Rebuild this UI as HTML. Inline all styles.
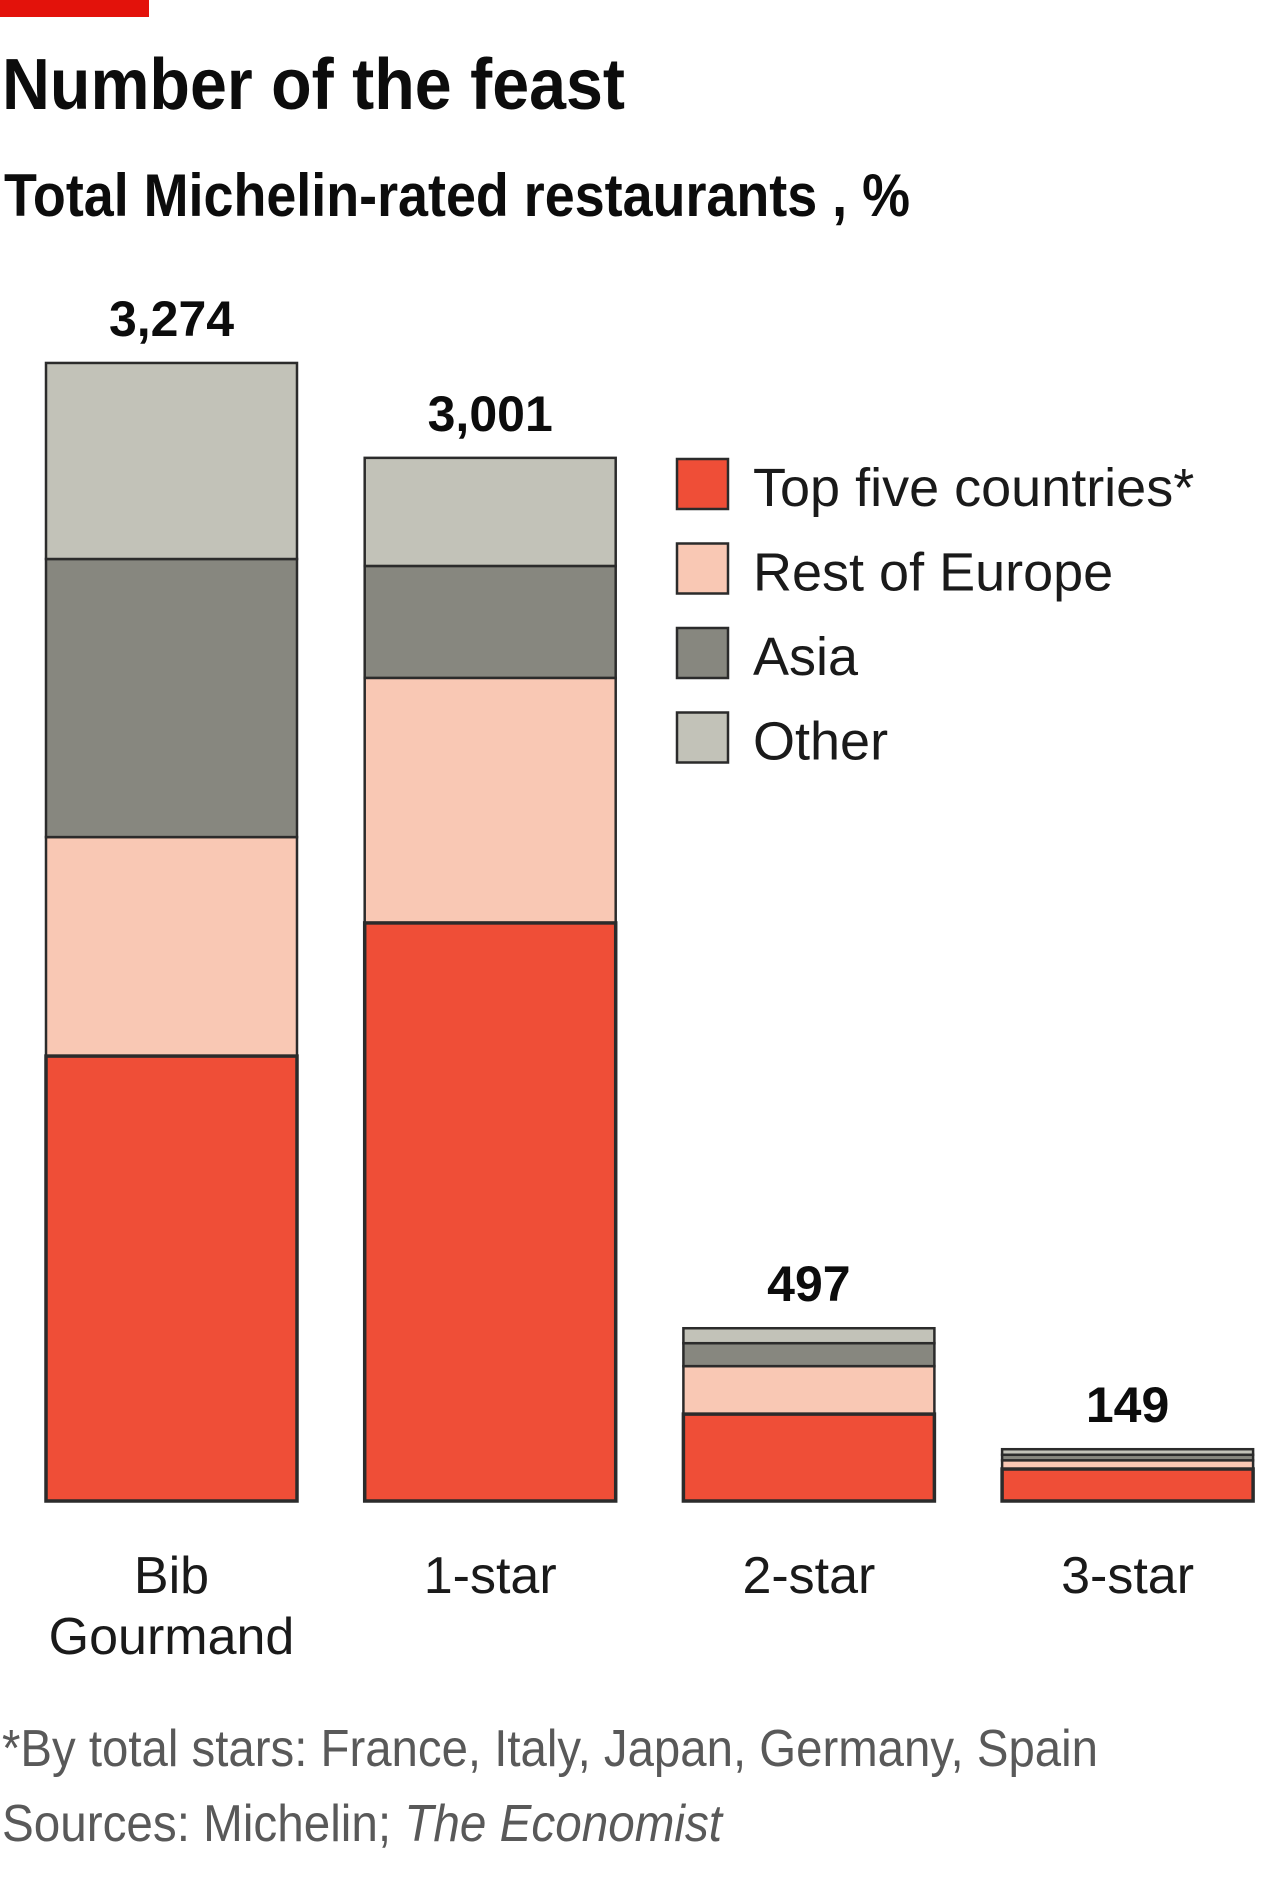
<!DOCTYPE html>
<html><head><meta charset="utf-8"><style>
html,body{margin:0;padding:0;background:#fff}
svg{display:block}
text{font-family:"Liberation Sans",sans-serif}
</style></head><body>
<svg id="chart" width="1280" height="1884" viewBox="0 0 1280 1884" xmlns="http://www.w3.org/2000/svg">
<rect x="0" y="0" width="149" height="17" fill="#e3120b"/>
<text x="2" y="109" font-size="72" font-weight="bold" fill="#0c0c0c" textLength="623" lengthAdjust="spacingAndGlyphs">Number of the feast</text>
<text x="4" y="216" font-size="60" font-weight="bold" fill="#0c0c0c" textLength="906" lengthAdjust="spacingAndGlyphs">Total Michelin-rated restaurants , %</text>
<g id="bars"></g>
<g id="legend"></g>
<g id="xlabels"></g>
<text x="2" y="1766" font-size="52" fill="#595959" textLength="1096" lengthAdjust="spacingAndGlyphs">*By total stars: France, Italy, Japan, Germany, Spain</text>
<text x="2" y="1841" font-size="52" fill="#595959" textLength="720" lengthAdjust="spacingAndGlyphs">Sources: Michelin; <tspan font-style="italic">The Economist</tspan></text>
</svg>
<script>
const categories = ["Bib Gourmand", "1-star", "2-star", "3-star"];
const totals = [3274, 3001, 497, 149];
const top5 = [1280, 1663, 250, 92];
const restEurope = [630, 705, 138, 25];
const asia = [800, 322, 66, 16];
const other = [564, 311, 43, 16];
const seriesNames = ["Top five countries*", "Rest of Europe", "Asia", "Other"];

const NS = "http://www.w3.org/2000/svg";
const baseY = 1501, pxPerUnit = 0.3476;
const y = v => baseY - v * pxPerUnit;
const barW = 251;
const xLeft = i => 46 + i * 318.7;
const series = [top5, restEurope, asia, other];
const colors = ["#ef4e37", "#f9c8b4", "#87877f", "#c2c2b8"];
const keys = ["top-five", "rest-of-europe", "asia", "other"];

function mk(tag, attrs, parent) {
  const el = document.createElementNS(NS, tag);
  for (const k in attrs) el.setAttribute(k, attrs[k]);
  parent.appendChild(el);
  return el;
}
const bars = document.getElementById('bars');
categories.forEach((c, i) => {
  let cum = 0;
  const segs = [];
  series.forEach((s, si) => {
    const y0 = y(cum), y1 = y(cum + s[i]);
    const r = mk('rect', {x: xLeft(i), y: y1, width: barW, height: y0 - y1, fill: colors[si], stroke: '#2b2b2b', 'stroke-width': 2.5}, bars);
    
    
    segs.push(r);
    cum += s[i];
  });
  // redraw top-five border on top for emphasis
  const t = mk('rect', {x: xLeft(i), y: y(top5[i]), width: barW, height: top5[i] * pxPerUnit, fill: 'none', stroke: '#2b2b2b', 'stroke-width': 3.5}, bars);
  
  
  const lbl = mk('text', {x: xLeft(i) + barW / 2, y: y(totals[i]) - 27, 'text-anchor': 'middle', 'font-size': 50, 'font-weight': 'bold', fill: '#0c0c0c'}, bars);
  
  
  lbl.textContent = totals[i].toLocaleString('en-US');
});

const xl = document.getElementById('xlabels');
categories.forEach((c, i) => {
  const words = c === "Bib Gourmand" ? ["Bib", "Gourmand"] : [c];
  words.forEach((w, wi) => {
    const t = mk('text', {x: xLeft(i) + barW / 2, y: 1593 + wi * 61, 'text-anchor': 'middle', 'font-size': 52, fill: '#1a1a1a'}, xl);
    
    
    t.textContent = w;
  });
});

const lg = document.getElementById('legend');
seriesNames.forEach((n, si) => {
  const yy = 459 + si * 84.5;
  const sw = mk('rect', {x: 677, y: yy, width: 51, height: 50, fill: colors[si], stroke: '#2b2b2b', 'stroke-width': 2.5}, lg);
  
  
  const t = mk('text', {x: 753, y: yy + 47, 'font-size': 54, fill: '#1a1a1a'}, lg);
  
  
  t.textContent = n;
});
</script>
</body></html>
